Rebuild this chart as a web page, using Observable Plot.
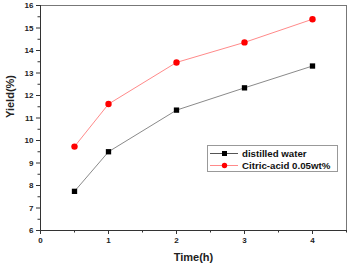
<!DOCTYPE html>
<html>
<head>
<meta charset="utf-8">
<script src="https://cdn.jsdelivr.net/npm/d3@7"></script>
<script src="https://cdn.jsdelivr.net/npm/@observablehq/plot@0.6"></script>
<style>
  html, body { margin: 0; padding: 0; background: #fff; }
  #wrap { position: relative; width: 350px; height: 264px; font-family: "Liberation Sans", Arial, sans-serif; }
  #legend { position: absolute; left: 207px; top: 145px; width: 131px; height: 27px; border: 1px solid #999; background: #fff;
            font-weight: bold; font-size: 9.7px; color: #111; box-sizing: border-box; }
  #legend .row { position: absolute; left: 2px; height: 12px; display: flex; align-items: center; white-space: nowrap; }
  #legend svg { margin-right: 4px; }
</style>
</head>
<body>
<div id="wrap"></div>
<script>
// Yield over reaction time for two solvents
const times = [0.5, 1, 2, 3, 4];
const waterYield = [7.74, 9.5, 11.35, 12.34, 13.31];
const citricYield = [9.73, 11.62, 13.47, 14.36, 15.39];
const seriesNames = ["distilled water", "Citric-acid 0.05wt%"];
const xTicks = [0, 1, 2, 3, 4];
const xMinor = [0.5, 1.5, 2.5, 3.5, 4.5];
const yTicks = [6, 7, 8, 9, 10, 11, 12, 13, 14, 15, 16];
const yMinor = [6.5, 7.5, 8.5, 9.5, 10.5, 11.5, 12.5, 13.5, 14.5, 15.5];

const water = times.map((t, i) => ({t, y: waterYield[i]}));
const citric = times.map((t, i) => ({t, y: citricYield[i]}));

const font = "'Liberation Sans', Arial, sans-serif";

const chart = Plot.plot({
  width: 350,
  height: 264,
  marginLeft: 40,
  marginRight: 4,
  marginTop: 5,
  marginBottom: 34,
  style: {fontFamily: font, fontWeight: "bold", fontSize: "8px", color: "#222", background: "#fff"},
  x: {domain: [0, 4.5]},
  y: {domain: [6, 16]},
  marks: [
    Plot.frame({stroke: "#777", strokeWidth: 1}),
    Plot.axisX(xMinor, {tickSize: 2.5, text: null, label: null, stroke: "#333"}),
    Plot.axisX(xTicks, {tickSize: 4, tickPadding: 3, label: null, stroke: "#333", fill: "#222"}),
    Plot.axisY(yMinor, {tickSize: 2.5, text: null, label: null, stroke: "#333"}),
    Plot.axisY(yTicks, {tickSize: 4, tickPadding: 3, label: null, stroke: "#333", fill: "#222"}),
    Plot.ruleX([0], {stroke: "#333"}),
    Plot.ruleY([6], {stroke: "#333"}),
    Plot.line(water, {x: "t", y: "y", stroke: "#8a8a8a", strokeWidth: 1}),
    Plot.line(citric, {x: "t", y: "y", stroke: "#ff8a8a", strokeWidth: 1}),
    Plot.dot(water, {x: "t", y: "y", symbol: "square", r: 3, fill: "#000", stroke: "none"}),
    Plot.dot(citric, {x: "t", y: "y", symbol: "circle", r: 3.2, fill: "#f00", stroke: "none"}),
    Plot.text(["Time(h)"], {frameAnchor: "bottom", dy: 30, fontSize: 11, fontWeight: "bold", fill: "#222"}),
    Plot.text(["Yield(%)"], {frameAnchor: "left", dx: -30, rotate: -90, fontSize: 11, fontWeight: "bold", fill: "#222"})
  ]
});

const wrap = document.getElementById("wrap");
wrap.appendChild(chart);

// legend box
const legend = document.createElement("div");
legend.id = "legend";
const swatches = [
  {line: "#555", fill: "#000", shape: "square"},
  {line: "#ff8a8a", fill: "#f00", shape: "circle"}
];
seriesNames.forEach((name, i) => {
  const row = document.createElement("div");
  row.className = "row";
  row.style.top = (i === 0 ? 1 : 13) + "px";
  const s = swatches[i];
  const mark = s.shape === "square"
    ? `<rect x="12" y="3" width="5" height="5" fill="${s.fill}"/>`
    : `<circle cx="14.5" cy="5.5" r="2.7" fill="${s.fill}"/>`;
  row.innerHTML = `<svg width="28" height="11"><line x1="0" x2="28" y1="5.5" y2="5.5" stroke="${s.line}" stroke-width="1"/>${mark}</svg><span>${name}</span>`;
  legend.appendChild(row);
});
wrap.appendChild(legend);
</script>
</body>
</html>
